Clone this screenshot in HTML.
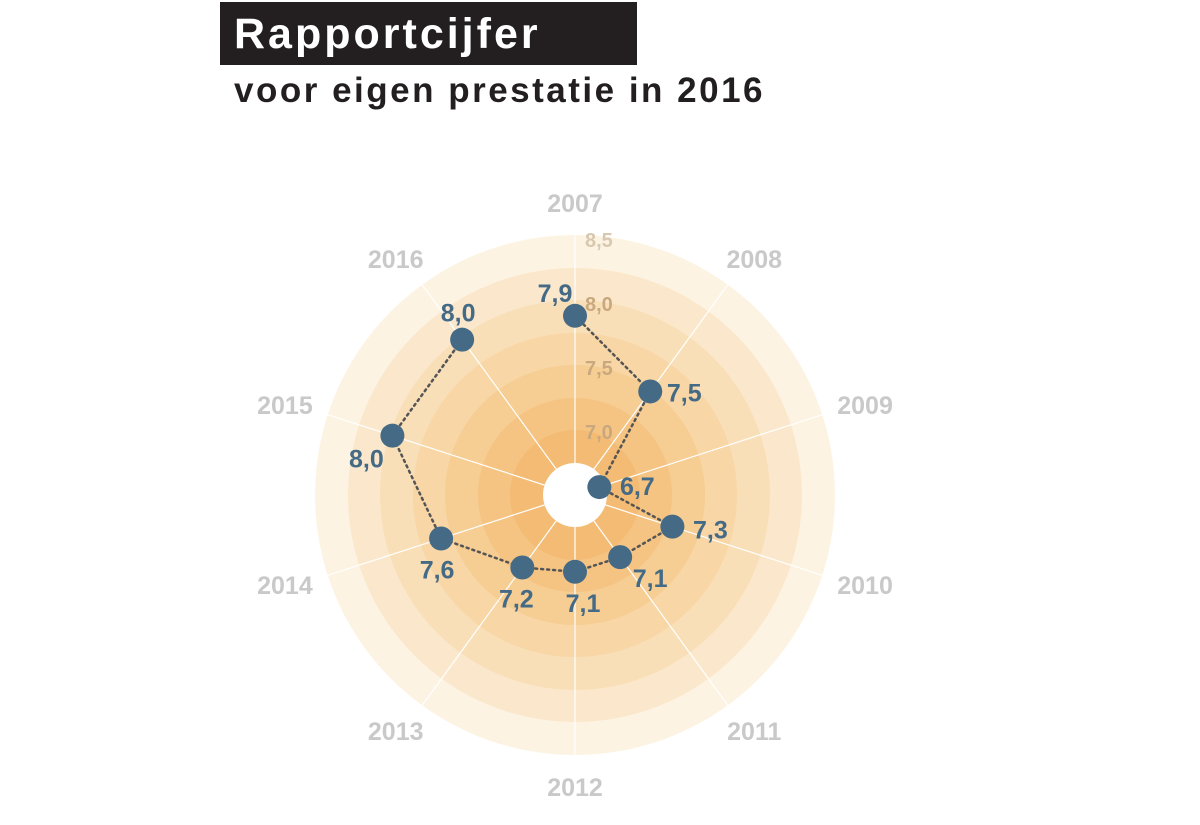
<!DOCTYPE html>
<html><head><meta charset="utf-8">
<style>
body{margin:0;background:#fff;width:1200px;height:825px;overflow:hidden;font-family:"Liberation Sans",sans-serif;}
#title{position:absolute;left:220px;top:2px;width:417px;height:63px;background:#231f20;}
#title span{position:absolute;left:14px;top:8px;color:#fff;font:bold 43px "Liberation Sans",sans-serif;letter-spacing:3px;}
#sub{position:absolute;left:234px;top:71px;color:#231f20;font:bold 35px "Liberation Sans",sans-serif;letter-spacing:2.5px;}
</style></head><body>
<div id="title"><span>Rapportcijfer</span></div>
<div id="sub">voor eigen prestatie in 2016</div>
<svg id="chart" width="1200" height="825" style="position:absolute;left:0;top:0"></svg>
<script>
const years=["2007","2008","2009","2010","2011","2012","2013","2014","2015","2016"];
const values=[7.9,7.5,6.7,7.3,7.1,7.1,7.2,7.6,8.0,8.0];
const tickValues=[7.0,7.5,8.0,8.5];
const tickLabels=["7,0","7,5","8,0","8,5"];
const valueLabels=["7,9","7,5","6,7","7,3","7,1","7,1","7,2","7,6","8,0","8,0"];
const cx=575,cy=495;
const NS="http://www.w3.org/2000/svg";
const svg=document.getElementById('chart');
function r(v){return 128+(v-7.5)*128;}
function ang(i){return i*2*Math.PI/years.length;}
function pt(i,rad){return [cx+rad*Math.sin(ang(i)),cy-rad*Math.cos(ang(i))];}
function mk(t,a){const e=document.createElementNS(NS,t);for(const k in a)e.setAttribute(k,a[k]);svg.appendChild(e);return e;}
const rings=[260,227,195,162,130,97,65];
const cols=["#fdf3e2","#fbe8cc","#f9dfb8","#f8d6a5","#f6cd92","#f5c483","#f3bb73"];
rings.forEach((rr,k)=>{const c=mk('circle',{cx:cx,cy:cy,r:rr,fill:cols[k]});

});
years.forEach((y,i)=>{const p=pt(i,260);const l=mk('line',{x1:cx,y1:cy,x2:p[0],y2:p[1],stroke:'#fff','stroke-width':1.2});


const qx=cx+305*Math.sin(ang(i)),qy=cy-292*Math.cos(ang(i));
const t=mk('text',{x:qx,y:qy+9,'text-anchor':'middle','font-size':25,'font-weight':'bold',fill:'#c9c9c9'});t.textContent=y;

});
const hole=mk('circle',{cx:cx,cy:cy,r:32,fill:'#fff'});


tickValues.forEach((v,k)=>{const t=mk('text',{x:cx+10,y:cy-r(v)+8,'font-size':20,'font-weight':'bold',fill:k==3?'#d8c8b0':'#c9a87e'});t.textContent=tickLabels[k];

});
const pts=values.map((v,i)=>pt(i,r(v)));
const path=mk('path',{d:pts.map((p,i)=>(i?'L':'M')+p[0]+','+p[1]).join(''),fill:'none',stroke:'#555','stroke-width':2.5,'stroke-dasharray':'2 4','stroke-linecap':'round'});


const off=[[-20,-14],[34,10],[38,8],[38,12],[30,30],[8,40],[-6,40],[-4,40],[-26,32],[-4,-18]];
pts.forEach((p,i)=>{const c=mk('circle',{cx:p[0],cy:p[1],r:12,fill:'#456a85'});


const t=mk('text',{x:p[0]+off[i][0],y:p[1]+off[i][1],'text-anchor':'middle','font-size':25,'font-weight':'bold',fill:'#456a85'});t.textContent=valueLabels[i];

});
</script>
</body></html>
